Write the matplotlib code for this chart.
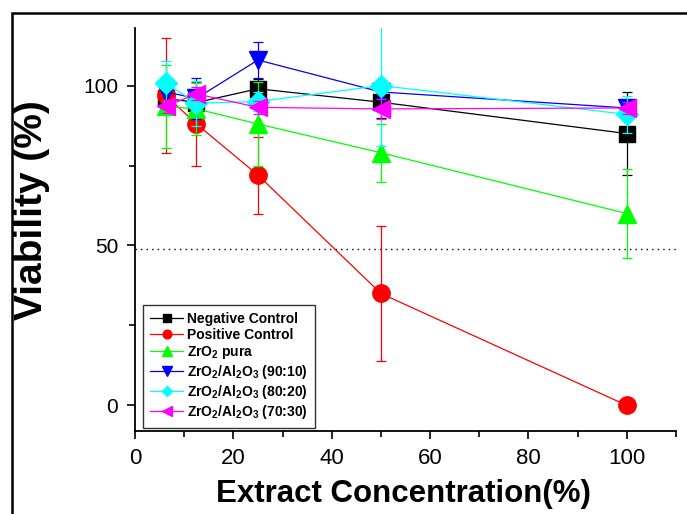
import numpy as np
import matplotlib
matplotlib.use("Agg")
import matplotlib.pyplot as plt
from matplotlib.patches import Rectangle
from matplotlib.ticker import MultipleLocator

plt.rcParams['font.family'] = ['Liberation Sans', 'DejaVu Sans']
plt.rcParams['mathtext.fontset'] = 'custom'
plt.rcParams['mathtext.rm'] = 'Liberation Sans:bold'
plt.rcParams['mathtext.bf'] = 'Liberation Sans:bold'
plt.rcParams['mathtext.default'] = 'bf'

# data
conc = [6.25, 12.5, 25, 50, 100]

neg_ctrl = [96, 94.7, 99, 94.8, 85]
neg_err = [3, 3, 3, 5, 13]
pos_ctrl = [96.9, 88, 72, 35, 0]
pos_err = [18, 13, 12, 21, 0.5]
zro2 = [93.5, 92.7, 88, 79, 60]
zro2_err = [13, 8, 13, 9, 14]
zr_90 = [98, 96, 108, 98, 93]
zr_90_err = [4, 6.5, 5.5, 2, 2]
zr_80 = [100.8, 94.5, 95, 100, 91]
zr_80_err = [7, 7, 3, 19, 5.7]
zr_70 = [93.5, 97.4, 93.2, 92.7, 93]
zr_70_err = [2, 2, 2, 3, 2]

labels = ['Negative Control', 'Positive Control', r'ZrO$_2$ pura',
          r'ZrO$_2$/Al$_2$O$_3$ (90:10)', r'ZrO$_2$/Al$_2$O$_3$ (80:20)',
          r'ZrO$_2$/Al$_2$O$_3$ (70:30)']
series = [neg_ctrl, pos_ctrl, zro2, zr_90, zr_80, zr_70]
errors = [neg_err, pos_err, zro2_err, zr_90_err, zr_80_err, zr_70_err]
colors = ['#000000', '#FF0000', '#00FF00', '#0000FF', '#00FFFF', '#FF00FF']
markers = ['s', 'o', '^', 'v', 'D', '<']
msizes = [11, 12.5, 13, 13, 11, 13]

fig = plt.figure(figsize=(6.87, 5.14), dpi=100)
ax = fig.add_axes([0.1965, 0.1615, 0.7875, 0.784])

# outer frame
fig.patches.append(Rectangle((12 / 687, -0.2), 1.2, 1 - 13 / 514 + 0.2,
                             transform=fig.transFigure, fill=False,
                             edgecolor='black', linewidth=1.8))

ax.axhline(49, color='black', linestyle=(0, (1, 3)), linewidth=1.0, zorder=1)

for i in range(len(series)):
    ax.plot(conc, series[i], color=colors[i], marker=markers[i],
            markersize=msizes[i], linewidth=0.9, label=labels[i], zorder=2 + i)
    ax.errorbar(conc, series[i], yerr=errors[i], fmt='none', ecolor=colors[i],
                elinewidth=0.9, capsize=3.4, capthick=0.9, zorder=2 + i)

ax.set_xlim(0, 110)
ax.set_ylim(-8, 118)
ax.xaxis.set_major_locator(MultipleLocator(20))
ax.xaxis.set_minor_locator(MultipleLocator(10))
ax.yaxis.set_major_locator(MultipleLocator(50))
ax.yaxis.set_minor_locator(MultipleLocator(25))

ax.spines['top'].set_visible(False)
ax.spines['right'].set_visible(False)
ax.spines['left'].set_linewidth(1.3)
ax.spines['bottom'].set_linewidth(1.3)
ax.tick_params(which='major', direction='out', length=6, width=1.2, pad=6)
ax.tick_params(which='minor', direction='out', length=4, width=1.2)
ax.tick_params(axis='x', labelsize=16)
ax.tick_params(axis='y', labelsize=15)

ax.set_xlabel('Extract Concentration(%)', fontsize=22.5, fontweight='bold')
ax.set_ylabel('Viability (%)', fontsize=28, fontweight='bold')
ax.xaxis.set_label_coords(0.497, -0.118)
ax.yaxis.set_label_coords(-0.158, 0.548)

leg = ax.legend(loc='lower left', bbox_to_anchor=(0.0148, 0.0074),
                borderaxespad=0, fancybox=False, framealpha=1,
                edgecolor='#333333', prop={'weight': 'bold', 'size': 10},
                handlelength=2.4, handletextpad=0.3, labelspacing=0.15,
                markerscale=0.5, borderpad=0.5)
leg.get_frame().set_linewidth(1.0)

fig.savefig('out.png', dpi=100)
